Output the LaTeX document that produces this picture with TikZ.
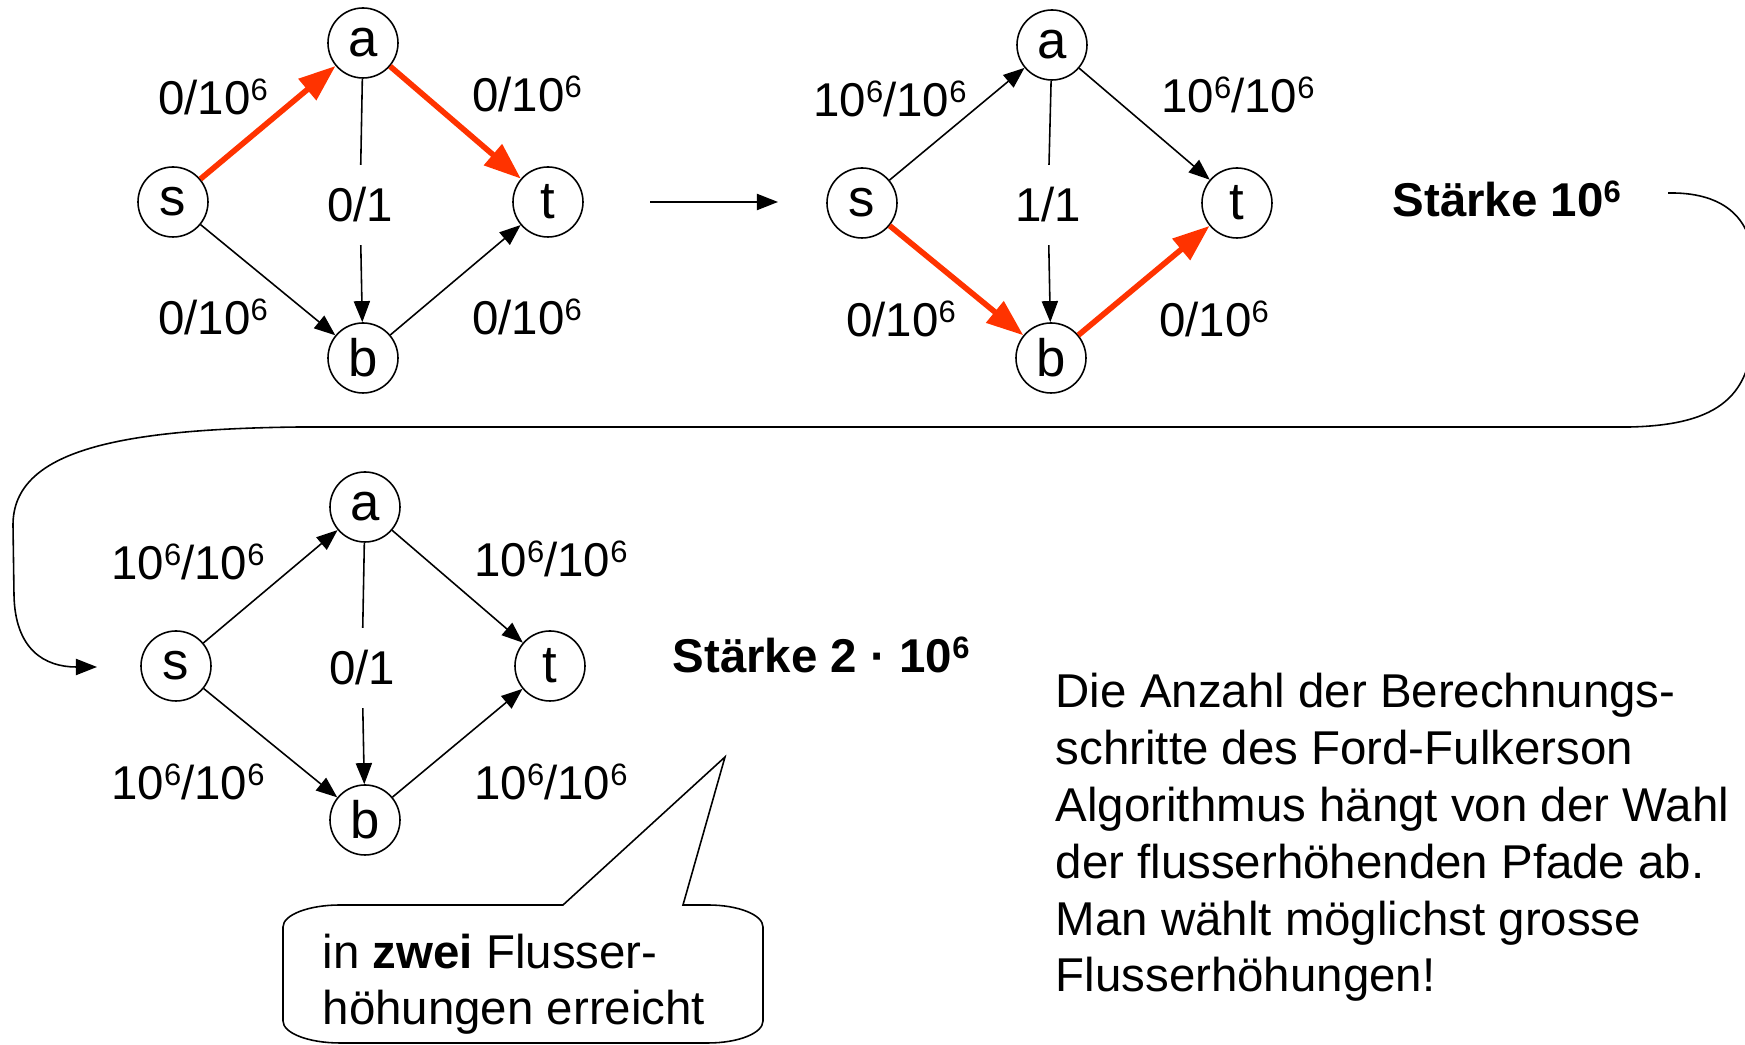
\documentclass[tikz,border=0pt]{standalone}
\usepackage{fontspec}
\setmainfont{Liberation Sans}
\usetikzlibrary{arrows.meta}
\definecolor{lred}{RGB}{255, 51, 0}
\newcommand{\hoch}[1]{\raisebox{0.3em}{\fontsize{8.8}{10}\selectfont #1}}

\tikzset{
	vertex/.style = {circle, draw, line width = 0.45pt, minimum size = 0.7cm, inner sep = 0pt, font = \fontsize{15}{17}\selectfont},
	flowlab/.style = {anchor = base, inner sep = 0pt, font = \fontsize{13.5}{16}\selectfont},
	midlab/.style = {flowlab, minimum height = 0.79cm},
	fedge/.style = {line width = 0.45pt, -{Triangle[length = 6pt, width = 4.6pt]}},
	aug/.style = {color = lred, line width = 1.6pt, -{Triangle[length = 10.5pt, width = 7.6pt]}},
	bold/.style = {anchor = base west, inner sep = 0pt, font = \fontsize{13.5}{16}\selectfont\bfseries},
	plain/.style = {anchor = base west, inner sep = 0pt, align = left, font = \fontsize{13.5}{16.2}\selectfont}
}

\begin{document}
\begin{tikzpicture}
			\useasboundingbox (0,0) rectangle (17.45,10.45);

			% erster Fluss
			\node (s1) at (1.73,8.43) [vertex] {s};
			\node (a1) at (3.63,10.02) [vertex] {a};
			\node (t1) at (5.48,8.43) [vertex] {t};
			\node (b1) at (3.63,6.87) [vertex] {b};
			\node (l1sa) at (2.13,9.30) [flowlab] {0/10\hoch{6}};
			\node (l1at) at (5.27,9.33) [flowlab] {0/10\hoch{6}};
			\node (m1) at (3.60,8.23) [midlab] {0/1};
			\node (l1sb) at (2.13,7.10) [flowlab] {0/10\hoch{6}};
			\node (l1bt) at (5.27,7.10) [flowlab] {0/10\hoch{6}};
			\draw (s1) edge[aug] (a1);
			\draw (a1) edge[aug] (t1);
			\draw (s1) edge[fedge] (b1);
			\draw (b1) edge[fedge] (t1);
			\draw[line width = 0.45pt] (a1) -- (m1);
			\draw (m1) edge[fedge] (b1);

			\coordinate (go1) at (6.50,8.43);
			\coordinate (go2) at (7.78,8.43);
			\draw (go1) edge[fedge] (go2);

			% zweiter Fluss
			\node (s2) at (8.62,8.42) [vertex] {s};
			\node (a2) at (10.52,10.00) [vertex] {a};
			\node (t2) at (12.37,8.42) [vertex] {t};
			\node (b2) at (10.51,6.87) [vertex] {b};
			\node (l2sa) at (8.90,9.28) [flowlab] {10\hoch{6}/10\hoch{6}};
			\node (l2at) at (12.38,9.32) [flowlab] {10\hoch{6}/10\hoch{6}};
			\node (m2) at (10.48,8.23) [midlab] {1/1};
			\node (l2sb) at (9.01,7.08) [flowlab] {0/10\hoch{6}};
			\node (l2bt) at (12.14,7.08) [flowlab] {0/10\hoch{6}};
			\draw (s2) edge[fedge] (a2);
			\draw (a2) edge[fedge] (t2);
			\draw (s2) edge[aug] (b2);
			\draw (b2) edge[aug] (t2);
			\draw[line width = 0.45pt] (a2) -- (m2);
			\draw (m2) edge[fedge] (b2);

			\node (st1) at (13.92,8.28) [bold] {Stärke 10\hoch{6}};

			% Rueckweg zum dritten Fluss
			\coordinate (back1) at (16.68,8.52);
			\coordinate (back2) at (0.97,3.78);
			\draw[fedge] (back1) .. controls (17.2,8.53) and (17.53,8.3) .. (17.53,7.8)
				-- (17.53,7.2) .. controls (17.53,6.5) and (17.2,6.2) .. (16.3,6.18)
				-- (3.0,6.18) .. controls (1.2,6.16) and (0.13,5.95) .. (0.13,5.2)
				-- (0.14,4.5) .. controls (0.15,3.95) and (0.45,3.78) .. (back2);

			% dritter Fluss
			\node (s3) at (1.76,3.79) [vertex] {s};
			\node (a3) at (3.65,5.38) [vertex] {a};
			\node (t3) at (5.50,3.79) [vertex] {t};
			\node (b3) at (3.65,2.25) [vertex] {b};
			\node (l3sa) at (1.88,4.65) [flowlab] {10\hoch{6}/10\hoch{6}};
			\node (l3at) at (5.51,4.68) [flowlab] {10\hoch{6}/10\hoch{6}};
			\node (m3) at (3.62,3.60) [midlab] {0/1};
			\node (l3sb) at (1.88,2.45) [flowlab] {10\hoch{6}/10\hoch{6}};
			\node (l3bt) at (5.51,2.45) [flowlab] {10\hoch{6}/10\hoch{6}};
			\draw (s3) edge[fedge] (a3);
			\draw (a3) edge[fedge] (t3);
			\draw (s3) edge[fedge] (b3);
			\draw (b3) edge[fedge] (t3);
			\draw[line width = 0.45pt] (a3) -- (m3);
			\draw (m3) edge[fedge] (b3);

			\node (st2) at (6.72,3.72) [bold] {Stärke 2 · 10\hoch{6}};

			% Sprechblase
			\draw[line width = 0.45pt] (3.40,1.40) -- (5.63,1.40) -- (7.25,2.88) -- (6.83,1.40) -- (7.08,1.40)
				arc[start angle = 90, end angle = 0, x radius = 0.55, y radius = 0.22] -- (7.63,0.24)
				arc[start angle = 0, end angle = -90, x radius = 0.55, y radius = 0.22] -- (3.40,0.02)
				arc[start angle = 270, end angle = 180, x radius = 0.57, y radius = 0.22] -- (2.83,1.18)
				arc[start angle = 180, end angle = 90, x radius = 0.57, y radius = 0.22] -- cycle;
			\node (hint) at (3.22,0.20) [plain] {in \textbf{zwei} Flusser-\\höhungen erreicht};

			\node (txt) at (10.55,0.53) [plain] {Die Anzahl der Berechnungs-\\schritte des Ford-Fulkerson\\Algorithmus hängt von der Wahl\\der flusserhöhenden Pfade ab.\\Man wählt möglichst grosse\\Flusserhöhungen!};
\end{tikzpicture}
\end{document}
